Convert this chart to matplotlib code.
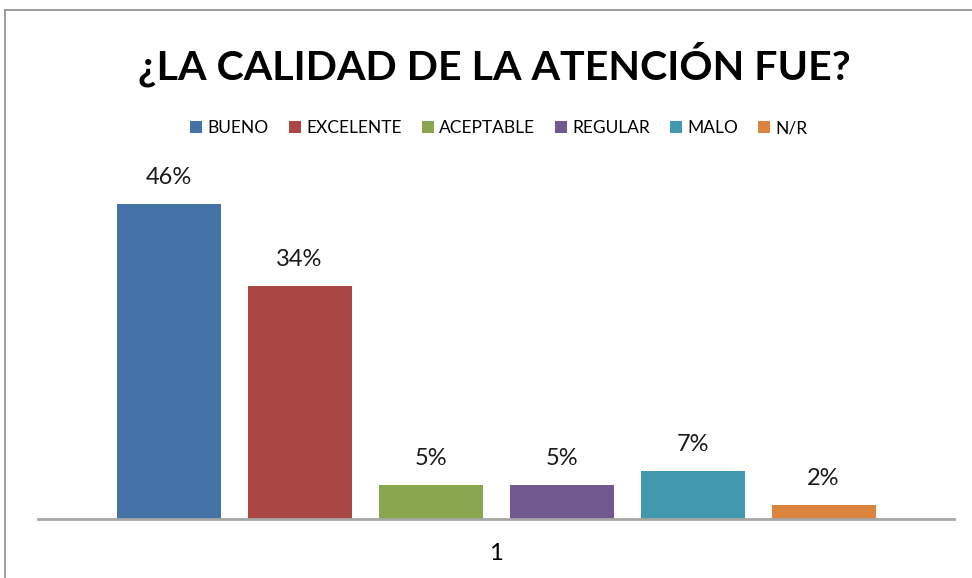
import numpy as np
import matplotlib
matplotlib.use("Agg")
import matplotlib.pyplot as plt
from matplotlib.lines import Line2D

# datos de la encuesta
categorias = ["BUENO", "EXCELENTE", "ACEPTABLE", "REGULAR", "MALO", "N/R"]
valores = [46, 34, 5, 5, 7, 2]
etiquetas = ["46%", "34%", "5%", "5%", "7%", "2%"]
colores = ["#4572A7", "#AA4643", "#89A54E", "#71588F", "#4198AF", "#DB843D"]
titulo = "¿LA CALIDAD DE LA ATENCIÓN FUE?"
grupo = ["1"]

plt.rcParams['font.family'] = ['Lato', 'DejaVu Sans']

W, H = 972, 578
fig = plt.figure(figsize=(W / 100, H / 100), dpi=100)

# borde gris del grafico (solo arriba e izquierda visibles)
fig.add_artist(Line2D([5 / W, 1.0], [1 - 10 / H, 1 - 10 / H], color="#8c8c8c", lw=1.2))
fig.add_artist(Line2D([5 / W, 5 / W], [0, 1 - 10 / H], color="#8c8c8c", lw=1.2))

ax = fig.add_axes([38 / W, 59 / H, (954 - 38) / W, (519 - 160) / H])
x = np.arange(len(categorias))
ancho = 104 / 131
barras = ax.bar(x, valores, width=ancho, color=colores, label=categorias, zorder=2)

ax.set_xlim(2.5 - 916 / 131 / 2, 2.5 + 916 / 131 / 2)
ax.set_ylim(0, 359 / (315 / 46))

for b, t in zip(barras, etiquetas):
    ax.annotate(t, (b.get_x() + b.get_width() / 2, b.get_height()),
                xytext=(0, 19), textcoords="offset points",
                ha="center", va="center", fontsize=17, color="#1a1a1a")

for s in ["top", "left", "right"]:
    ax.spines[s].set_visible(False)
ax.spines["bottom"].set_color("#a6a6a6")
ax.spines["bottom"].set_linewidth(2)
ax.set_yticks([])
ax.set_xticks([2.5])
ax.set_xticklabels(grupo, fontsize=17)
ax.tick_params(axis="x", length=0, pad=17)

fig.text(494 / W, 1 - 64 / H, titulo, ha="center", va="center",
         fontsize=29.6, fontweight="bold", color="#000000")

fig.legend(handles=barras, labels=categorias, loc="center", ncol=6,
           bbox_to_anchor=(499 / W, 1 - 128 / H), frameon=False,
           fontsize=12.5, handlelength=0.7, handleheight=0.7,
           handletextpad=0.3, columnspacing=1.15)

fig.savefig("out.png", dpi=100)
